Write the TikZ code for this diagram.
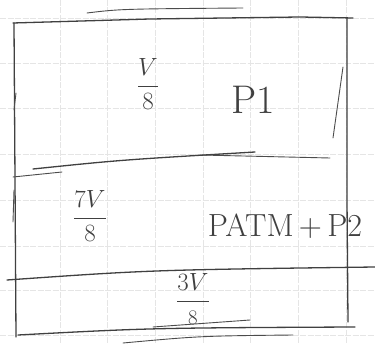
\documentclass[tikz,border=0pt]{standalone}
\begin{document}
\begin{tikzpicture}[x=1pt,y=-1pt,
  gridline/.style={draw=black!10,line width=0.8pt,dash pattern=on 6pt off 1.5pt},
  pen/.style={draw=black!75,line width=1.3pt,line cap=round,line join=round},
  lightpen/.style={draw=black!70,line width=0.9pt,line cap=round},
  lbl/.style={text=black!75,inner sep=0pt}]
\useasboundingbox (0,0) rectangle (375,344);
\fill[white] (0,0) rectangle (375,344);
% paper grid
\foreach \gx in {60,107,155,203,250,298,346}
  \draw[gridline] (\gx,0) -- (\gx,344);
\foreach \gy in {18,63,108,154,200,246,290,335}
  \draw[gridline] (0,\gy) -- (375,\gy);
% box outline
\draw[pen] (13,23) -- (150,19) -- (300,17) -- (353,18);
\draw[lightpen] (87,13) .. controls (120,9) .. (243,8);
\draw[pen] (14,23) -- (15,180) -- (16,337);
\draw[lightpen] (16,93) -- (14,110);
\draw[lightpen] (14,190) -- (13,222);
\draw[pen] (347,18) -- (347,200) -- (348,322);
\draw[lightpen] (333,138) -- (343,67);
% top-middle divider
\draw[pen] (33,169) .. controls (120,160) .. (255,152);
\draw[lightpen] (200,155) -- (330,158);
\draw[lightpen] (13,177) -- (62,172);
% lower divider
\draw[pen] (7,280) .. controls (150,270) .. (375,267);
% bottom
\draw[pen] (18,335) .. controls (150,328) .. (355,327);
\draw[lightpen] (153,327) -- (250,320);
\draw[lightpen] (123,343) .. controls (200,336) .. (293,335);
% labels
\node[lbl,font=\fontsize{46}{48}\selectfont] (v1) at (148,84) {$\displaystyle\frac{V}{\scriptstyle 8}$};
\node[lbl,font=\fontsize{40}{42}\selectfont] (p1) at (253,100) {P1};
\node[lbl,font=\fontsize{36}{38}\selectfont] (v2) at (90,216) {$\displaystyle\frac{7V}{\scriptstyle 8}$};
\node[lbl,font=\fontsize{32}{34}\selectfont] (p2) at (285,226) {PATM\,+\,P2};
\node[lbl,font=\fontsize{28}{30}\selectfont] (v3) at (193,299) {$\displaystyle\frac{3V}{\scriptstyle 8}$};
\end{tikzpicture}
\end{document}
